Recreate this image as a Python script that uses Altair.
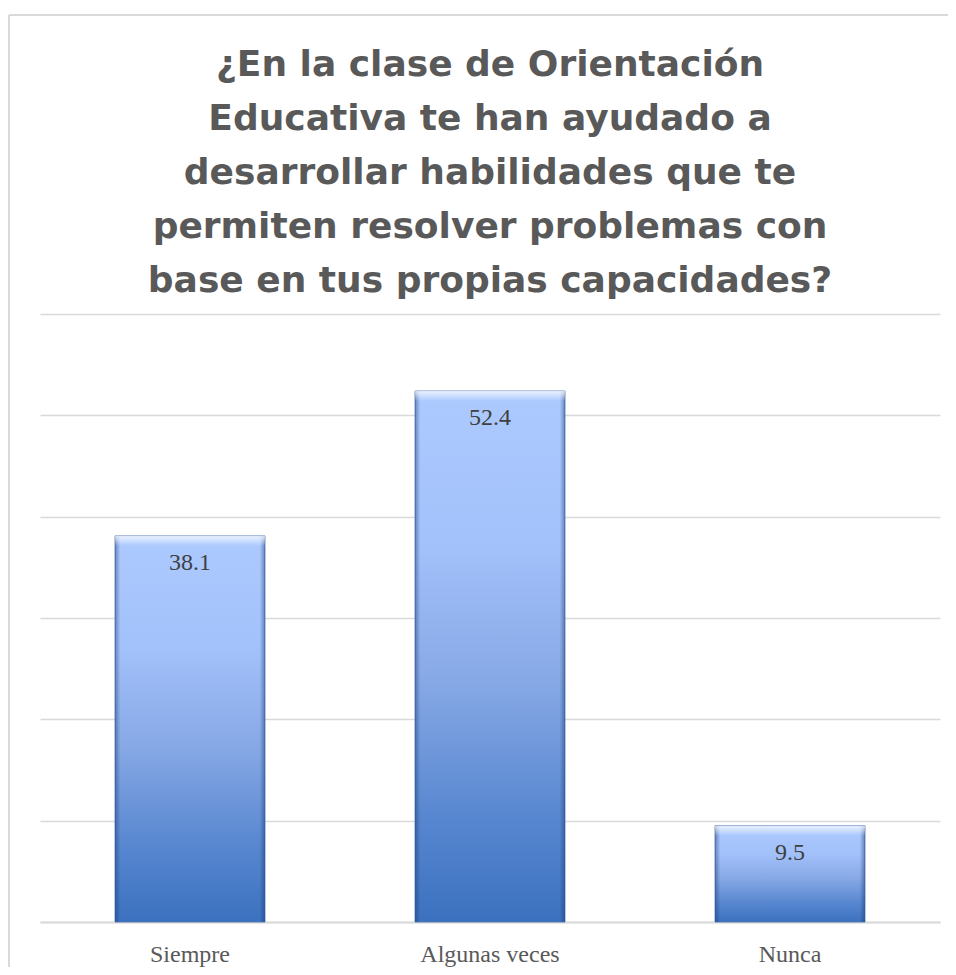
import altair as alt
import pandas as pd

categories = ["Siempre", "Algunas veces", "Nunca"]
values = [38.1, 52.4, 9.5]
title_lines = [
    "¿En la clase de Orientación",
    "Educativa te han ayudado a",
    "desarrollar habilidades que te",
    "permiten resolver problemas con",
    "base en tus propias capacidades?",
]

df = pd.DataFrame({"cat": categories, "val": values})

x_enc = alt.X(
    "cat:N",
    sort=categories,
    scale=alt.Scale(paddingInner=0.5, paddingOuter=0.25),
    axis=alt.Axis(
        title=None, labelAngle=0, ticks=False, tickSize=0, labelPadding=20,
        labelFont="Liberation Serif", labelFontSize=24, labelColor="#595959",
        domainColor="#d9d9d9", domainWidth=2, grid=False,
    ),
)
y_scale = alt.Scale(domain=[0, 60], nice=False)
y_enc = alt.Y(
    "val:Q", scale=y_scale,
    axis=alt.Axis(title=None, labels=False, ticks=False, domain=False,
                  values=[0, 10, 20, 30, 40, 50, 60],
                  gridColor="#d9d9d9", gridWidth=1.5),
)

fill_grad = alt.Gradient(
    gradient="linear", x1=0, x2=0, y1=0, y2=1,
    stops=[
        alt.GradientStop(offset=0, color="#adcaff"),
        alt.GradientStop(offset=0.3, color="#a2c0fa"),
        alt.GradientStop(offset=0.55, color="#86a8e5"),
        alt.GradientStop(offset=0.8, color="#5887d0"),
        alt.GradientStop(offset=1, color="#3b71bf"),
    ],
)
side_grad = alt.Gradient(
    gradient="linear", x1=0, x2=1, y1=0, y2=0,
    stops=[
        alt.GradientStop(offset=0, color="rgba(20,50,110,0.45)"),
        alt.GradientStop(offset=0.035, color="rgba(20,50,110,0)"),
        alt.GradientStop(offset=0.965, color="rgba(20,50,110,0)"),
        alt.GradientStop(offset=1, color="rgba(20,50,110,0.45)"),
    ],
)
top_grad = alt.Gradient(
    gradient="linear", x1=0, x2=0, y1=0, y2=1,
    stops=[
        alt.GradientStop(offset=0, color="rgba(255,255,255,0.75)"),
        alt.GradientStop(offset=1, color="rgba(255,255,255,0)"),
    ],
)

base = alt.Chart(df)

bars = base.mark_bar(color=fill_grad, stroke="#4f74b3", strokeWidth=0.8).encode(x=x_enc, y=y_enc)
sides = base.mark_bar(color=side_grad).encode(x=alt.X("cat:N", sort=categories), y="val:Q")
tops = base.mark_bar(color=top_grad, y2Offset=10).encode(
    x=alt.X("cat:N", sort=categories), y="val:Q", y2="val:Q")
labels = base.mark_text(
    font="Liberation Serif", fontSize=24, color="#404040",
    baseline="alphabetic", dy=34,
).encode(x=alt.X("cat:N", sort=categories), y="val:Q", text=alt.Text("val:Q", format=".1f"))

frame = pd.DataFrame({"k": [0]})
left_border = alt.Chart(frame).mark_rule(color="#d9d9d9", strokeWidth=2).encode(
    x=alt.value(-31), y=alt.value(-299), y2=alt.value(700))
top_border = alt.Chart(frame).mark_rule(color="#d9d9d9", strokeWidth=2).encode(
    x=alt.value(-31), x2=alt.value(960), y=alt.value(-299))

title_text = alt.Chart(frame).mark_text(
    font="DejaVu Sans", fontSize=36, fontWeight="bold", color="#595959",
    lineHeight=54, align="center", baseline="middle",
).encode(x=alt.value(450), y=alt.value(-249), text=alt.value(title_lines))

chart = alt.layer(bars, sides, tops, labels, left_border, top_border, title_text).properties(
    width=900, height=608,
    padding={"left": 32, "top": 306, "right": 8, "bottom": 45},
    autosize=alt.AutoSizeParams(type="none"),
    background="white",
).configure_view(stroke=None)

chart.save("out.html", embed_options={"renderer": "svg", "actions": False})
